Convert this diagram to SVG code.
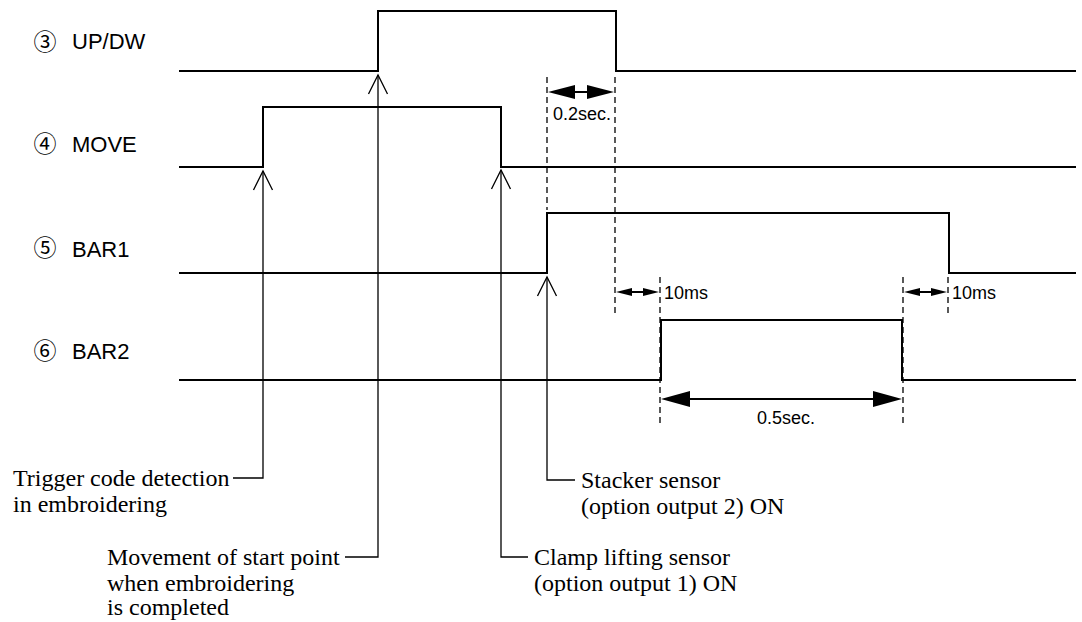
<svg xmlns="http://www.w3.org/2000/svg" width="1082" height="622" viewBox="0 0 1082 622">
<style>
.sig{fill:none;stroke:#000;stroke-width:2}
.lead{fill:none;stroke:#000;stroke-width:1.3}
.dash{fill:none;stroke:#000;stroke-width:1.3;stroke-dasharray:6 4}
.dim{fill:none;stroke:#000;stroke-width:2}
.head{fill:#000;stroke:none}
.lbl{font-family:"Liberation Sans",Arial,sans-serif;font-size:22px;fill:#000}
.num{font-family:"Noto Sans CJK JP","Noto Sans",sans-serif;font-size:23px;fill:#000}
.val{font-family:"Liberation Sans",Arial,sans-serif;font-size:18px;fill:#000}
.note{font-family:"Liberation Serif","Times New Roman",serif;font-size:24px;fill:#000}
</style>
<rect width="1082" height="622" fill="#fff"/>

<g id="sig-updw">
<text class="num" x="45" y="50" text-anchor="middle">③</text>
<text class="lbl" x="72" y="49">UP/DW</text>
<path class="sig" d="M179,71 H378 V11 H616 V71 H1076"/>
</g>
<g id="sig-move">
<text class="num" x="45" y="152" text-anchor="middle">④</text>
<text class="lbl" x="72" y="152">MOVE</text>
<path class="sig" d="M179,167 H263 V107 H501 V167 H1076"/>
</g>
<g id="sig-bar1">
<text class="num" x="45" y="256" text-anchor="middle">⑤</text>
<text class="lbl" x="72" y="257">BAR1</text>
<path class="sig" d="M179,273 H547 V213 H949 V273 H1076"/>
</g>
<g id="sig-bar2">
<text class="num" x="45" y="359" text-anchor="middle">⑥</text>
<text class="lbl" x="72" y="359">BAR2</text>
<path class="sig" d="M179,380 H661 V320 H902 V380 H1076"/>
</g>

<g id="connectors">
<path class="lead" d="M263,171 V478 H233"/>
<path class="lead" d="M253.5,190 L263,171 L272.5,190"/>
<path class="lead" d="M378,75 V557 H345"/>
<path class="lead" d="M368.5,94 L378,75 L387.5,94"/>
<path class="lead" d="M501,170 V557 H528"/>
<path class="lead" d="M491.5,189 L501,170 L510.5,189"/>
<path class="lead" d="M547,277 V480 H575"/>
<path class="lead" d="M537.5,296 L547,277 L556.5,296"/>
</g>

<g id="timing">
<path class="dash" d="M547,77 V210"/>
<path class="dash" d="M615,77 V314"/>
<path class="dash" d="M660,277 V426"/>
<path class="dash" d="M903,277 V426"/>
<path class="dash" d="M948,277 V314"/>
<path class="dim" d="M570,92 H592"/>
<path class="head" d="M548,92 L575,85 L575,99 Z"/>
<path class="head" d="M614,92 L587,85 L587,99 Z"/>
<text class="val" x="553" y="120">0.2sec.</text>
<path class="dim" d="M625,292 H650"/>
<path class="head" d="M616,292 L632,288 L632,296 Z"/>
<path class="head" d="M659,292 L643,288 L643,296 Z"/>
<text class="val" x="664" y="299">10ms</text>
<path class="dim" d="M913,292 H938"/>
<path class="head" d="M904,292 L920,288 L920,296 Z"/>
<path class="head" d="M947,292 L931,288 L931,296 Z"/>
<text class="val" x="952" y="299">10ms</text>
<path class="dim" d="M680,399 H884"/>
<path class="head" d="M661,399 L690,391 L690,407 Z"/>
<path class="head" d="M902,399 L873,391 L873,407 Z"/>
<text class="val" x="786" y="424" text-anchor="middle">0.5sec.</text>
</g>

<g id="note-trigger">
<text class="note" x="13" y="486">Trigger code detection</text>
<text class="note" x="13" y="512">in embroidering</text>
</g>
<g id="note-movement">
<text class="note" x="107" y="565">Movement of start point</text>
<text class="note" x="107" y="591">when embroidering</text>
<text class="note" x="107" y="615">is completed</text>
</g>
<g id="note-stacker">
<text class="note" x="581" y="488">Stacker sensor</text>
<text class="note" x="581" y="514">(option output 2) ON</text>
</g>
<g id="note-clamp">
<text class="note" x="534" y="565">Clamp lifting sensor</text>
<text class="note" x="534" y="591">(option output 1) ON</text>
</g>
</svg>
